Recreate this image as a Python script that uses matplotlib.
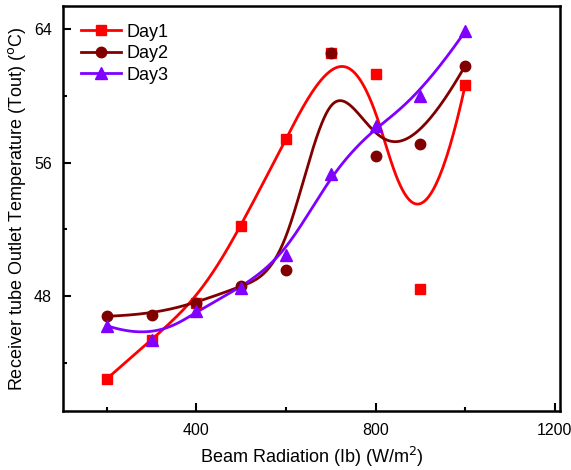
import numpy as np
import matplotlib
matplotlib.use("Agg")
import matplotlib.pyplot as plt
from matplotlib.lines import Line2D

plt.rcParams['font.family'] = ['Liberation Sans', 'DejaVu Sans']

# data
radiation = [200, 300, 400, 500, 600, 700, 800, 900, 1000]
day1 = [43.05, 45.4, 47.6, 52.19, 57.44, 62.56, 61.33, 48.44, 60.63]
day2 = [46.8, 46.9, 47.6, 48.6, 49.6, 62.56, 56.42, 57.12, 61.8]
day3 = [46.24, 45.36, 47.1, 48.5, 50.49, 55.34, 58.21, 60.0, 63.86]
labels = ['Day1', 'Day2', 'Day3']
colors = ['#FF0000', '#800000', '#8000FF']
markers = ['s', 'o', '^']
sizes = [6.5, 7.5, 8]


def bspline(xs, ys, n_pts=400, k=3):
    # clamped cubic B-spline with the data points as control points
    P = np.column_stack([xs, ys]).astype(float)
    n = len(P)
    inner = np.arange(1, n - k)
    knots = np.concatenate([np.zeros(k + 1), inner, np.full(k + 1, n - k)])
    ts = np.linspace(0, n - k, n_pts)
    out = []
    for t in ts:
        # find span
        if t >= knots[n]:
            s = n - 1
        else:
            s = np.searchsorted(knots, t, side='right') - 1
        d = [P[j + s - k].copy() for j in range(k + 1)]
        for r in range(1, k + 1):
            for j in range(k, r - 1, -1):
                i = j + s - k
                denom = knots[i + k + 1 - r] - knots[i]
                a = 0 if denom == 0 else (t - knots[i]) / denom
                d[j] = (1 - a) * d[j - 1] + a * d[j]
        out.append(d[k])
    out = np.array(out)
    return out[:, 0], out[:, 1]


fig = plt.figure(figsize=(5.71, 4.70), dpi=100)
ax = fig.add_axes([0.110, 0.1245, 0.871, 0.8635])

handles = []
for ys, lab, c, m, ms in zip([day1, day2, day3], labels, colors, markers, sizes):
    sx, sy = bspline(radiation, ys)
    ax.plot(sx, sy, color=c, lw=2, zorder=2)
    ax.plot(radiation, ys, linestyle='none', marker=m, color=c, ms=ms, zorder=3)
    handles.append(Line2D([], [], color=c, lw=2, marker=m, ms=ms, label=lab))

ax.set_xlim(102, 1212)
ax.set_ylim(41.1, 65.4)
ax.set_xticks([400, 800, 1200])
ax.set_xticks([200, 600, 1000], minor=True)
ax.set_yticks([48, 56, 64])
ax.set_yticks([44, 52, 60], minor=True)
ax.tick_params(which='both', direction='in', width=1.5, labelsize=11.5, color='black')
ax.tick_params(which='major', length=6, pad=8)
ax.tick_params(which='minor', length=3)
for sp in ax.spines.values():
    sp.set_linewidth(1.8)

ax.set_xlabel('Beam Radiation (Ib) (W/m$^2$)', fontsize=13, labelpad=5)
ax.set_ylabel(r'Receiver tube Outlet Temperature (Tout) ($^\mathrm{o}$C)', fontsize=13, labelpad=4)

ax.legend(handles=handles, loc='upper left', frameon=False, fontsize=13,
          handlelength=2.2, handletextpad=0.3, labelspacing=0.25,
          borderaxespad=0.6)

fig.savefig('out.png', dpi=100)
